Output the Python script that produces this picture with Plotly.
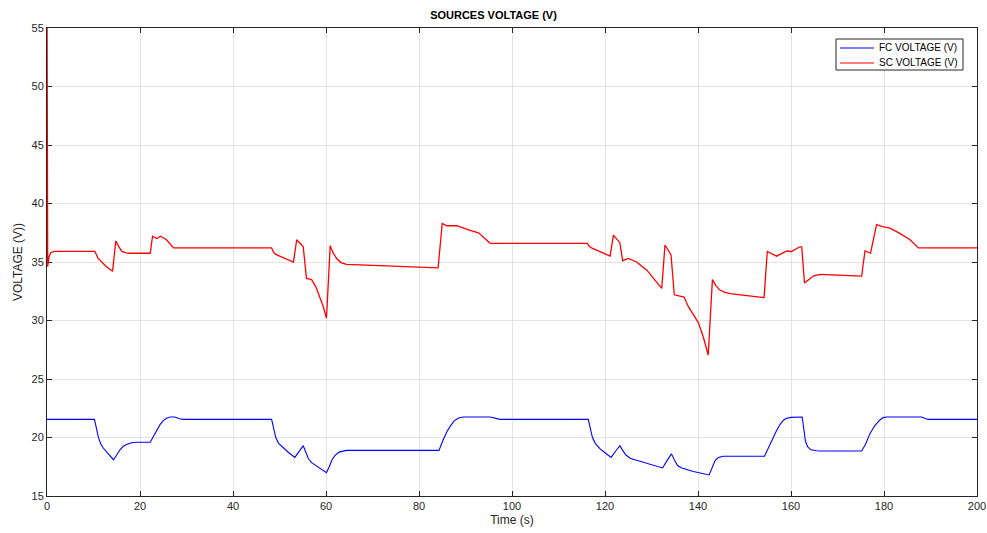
import plotly.graph_objects as go

# SC voltage (red)
sc_t = [0, 0.15, 0.4, 0.8, 1.5, 10.3, 11.0, 12.8, 14.1, 14.8, 15.3, 16.1, 17.0, 17.8, 22.2, 22.7, 23.6, 24.4,
        25.7, 27.2, 48.3, 48.7, 49.2, 53.0, 53.7, 55.1, 55.8, 56.9, 57.8, 58.7, 59.4, 60.1, 60.9, 61.5,
        62.3, 63.2, 64.4, 84.1, 85.0, 86.0, 88.1, 91.0, 92.8, 95.3, 116.2, 116.6, 117.1, 121.1, 121.8,
        123.2, 123.8, 125.0, 126.8, 129.0, 130.4, 132.2, 132.9, 134.2, 134.9, 137.0, 137.9, 139.4,
        140.1, 141.2, 142.2, 143.1, 143.8, 144.7, 145.8, 146.9, 154.2, 154.9, 156.9, 159.1, 160.1,
        161.9, 162.3, 162.9, 163.6, 164.8, 166.2, 175.2, 175.9, 177.1, 178.4, 179.9, 181.3, 183.4,
        185.6, 187.4, 200]
sc_v = [58, 34.6, 35.4, 35.8, 35.9, 35.9, 35.3, 34.6, 34.2, 36.8, 36.4, 35.9, 35.78, 35.75, 35.75, 37.2, 37.0, 37.2,
        36.9, 36.2, 36.2, 35.85, 35.65, 35.0, 36.9, 36.3, 33.6, 33.5, 32.9, 32.0, 31.2, 30.2, 36.4, 35.8,
        35.3, 34.95, 34.8, 34.5, 38.3, 38.1, 38.1, 37.7, 37.5, 36.6, 36.6, 36.35, 36.2, 35.5, 37.3,
        36.65, 35.1, 35.3, 35.0, 34.3, 33.6, 32.75, 36.45, 35.6, 32.2, 32.0, 31.2, 30.2,
        29.8, 28.5, 27.05, 33.5, 33.0, 32.6, 32.4, 32.3, 31.95, 35.9, 35.5, 35.94, 35.9,
        36.3, 36.3, 33.2, 33.45, 33.8, 33.95, 33.8, 35.94, 35.75, 38.2, 38.0, 37.9, 37.45,
        36.9, 36.2, 36.2]

# FC voltage (blue)
fc_t = [0, 10.2, 10.4, 10.7, 11.0, 11.5, 12.1, 13.2, 14.3, 14.8, 15.3, 15.7, 16.4, 17.1, 18.2, 19.3,
        22.2, 23.0, 23.7, 24.3, 25.0, 25.7, 26.5, 27.5, 28.5, 29.3,
        48.3, 48.5, 48.8, 49.2, 49.8, 50.8, 52.0, 53.3, 54.3, 55.1, 55.6, 56.2, 56.9, 58.5, 60.1,
        60.7, 61.3, 61.9, 62.8, 64.4, 84.3, 85.2, 86.0, 86.7, 87.5, 88.4, 89.5, 95.3, 96.5, 97.4,
        116.4, 116.6, 116.9, 117.3, 117.9, 118.9, 120.0, 121.3, 122.3, 123.2, 123.8, 124.5, 125.5,
        127.5, 130.0, 132.4, 133.3, 134.3, 134.9, 135.6, 136.5, 139.0, 142.4, 143.0, 143.7, 144.4,
        145.4, 154.3, 155.3, 156.1, 156.9, 157.7, 158.4, 159.1, 160.0, 162.4, 162.6, 162.8, 163.1,
        163.6, 164.3, 165.5, 166.2, 175.2, 176.0, 177.0, 178.0, 179.1, 179.8, 180.6, 188.1, 189.0,
        189.5, 200]
fc_v = [21.55, 21.55, 21.2, 20.6, 20.1, 19.5, 19.1, 18.6, 18.1, 18.4, 18.75, 18.95, 19.25, 19.4, 19.55, 19.6,
        19.6, 20.2, 20.7, 21.1, 21.45, 21.65, 21.75, 21.75, 21.6, 21.55,
        21.55, 21.2, 20.6, 20.0, 19.5, 19.1, 18.7, 18.3, 18.8, 19.3, 18.8, 18.2, 17.85, 17.4, 17.0,
        17.5, 18.1, 18.45, 18.75, 18.9, 18.9, 19.8, 20.5, 20.95, 21.4, 21.65, 21.75, 21.75, 21.6, 21.55,
        21.55, 21.2, 20.6, 20.0, 19.5, 19.05, 18.7, 18.3, 18.85, 19.3, 18.9, 18.5, 18.2,
        17.95, 17.7, 17.4, 18.0, 18.6, 18.1, 17.6, 17.4, 17.1, 16.8, 17.4, 18.05, 18.3,
        18.4, 18.4, 19.3, 20.0, 20.6, 21.15, 21.5, 21.65, 21.72, 21.75, 21.0, 20.3, 19.7,
        19.2, 18.95, 18.87, 18.85, 18.85, 19.4, 20.35, 21.0, 21.5, 21.7, 21.75, 21.75, 21.6,
        21.55, 21.55]

series_names = ["FC VOLTAGE (V)", "SC VOLTAGE (V)"]
series_colors = ["#0000FF", "#FF0000"]
x_ticks = [0, 20, 40, 60, 80, 100, 120, 140, 160, 180, 200]
y_ticks = [15, 20, 25, 30, 35, 40, 45, 50, 55]

FONT = "Liberation Sans, Arial, Helvetica, sans-serif"

fig = go.Figure()
fig.add_trace(go.Scatter(x=fc_t, y=fc_v, mode="lines", name=series_names[0],
                         line=dict(color=series_colors[0], width=1.1), showlegend=False))
fig.add_trace(go.Scatter(x=sc_t, y=sc_v, mode="lines", name=series_names[1],
                         line=dict(color=series_colors[1], width=1.3), showlegend=False))

axis_common = dict(showline=True, linecolor="#262626", linewidth=1, mirror="ticks",
                   ticks="inside", ticklen=5, tickcolor="#262626", automargin=False,
                   layer="below traces",
                   showgrid=True, gridcolor="#E3E3E3", gridwidth=1, zeroline=False,
                   tickfont=dict(family=FONT, size=11, color="#262626"))

# Legend box (MATLAB-style), positioned in paper coordinates of the plot area
PX0, PX1, PY0, PY1 = 47, 977, 28, 496
def px(x):
    return (x - PX0) / (PX1 - PX0)
def py(y):
    return (PY1 - y) / (PY1 - PY0)

shapes = [dict(type="rect", xref="paper", yref="paper", x0=px(836), x1=px(963), y0=py(70), y1=py(39),
               line=dict(color="#262626", width=1), fillcolor="white", layer="above")]
annotations = []
for i, (nm, col) in enumerate(zip(series_names, series_colors)):
    yy = 48 + 15 * i
    shapes.append(dict(type="line", xref="paper", yref="paper", x0=px(840), x1=px(874),
                       y0=py(yy), y1=py(yy), line=dict(color=col, width=1.1), layer="above"))
    annotations.append(dict(text=nm, xref="paper", yref="paper", x=px(877), y=py(yy),
                            xanchor="left", yanchor="middle", showarrow=False,
                            font=dict(family=FONT, size=10, color="#000000")))

fig.update_layout(
    width=987, height=533,
    margin=dict(l=47, r=10, t=28, b=37),
    paper_bgcolor="white", plot_bgcolor="white",
    title=dict(text="<b>SOURCES VOLTAGE (V)</b>", x=0.5, xref="container",
               y=1 - 15 / 533, yref="container", yanchor="middle", xanchor="center",
               font=dict(family=FONT, size=11, color="#000000")),
    xaxis=dict(range=[0, 200], tickvals=x_ticks,
               title=dict(text="Time (s)", standoff=4,
                          font=dict(family=FONT, size=12, color="#262626")),
               **axis_common),
    yaxis=dict(range=[15, 55], tickvals=y_ticks,
               title=dict(text="VOLTAGE (V))", standoff=6,
                          font=dict(family=FONT, size=12, color="#262626")),
               **axis_common),
    shapes=shapes,
    annotations=annotations,
    showlegend=False,
)

fig.write_html("out.html")
